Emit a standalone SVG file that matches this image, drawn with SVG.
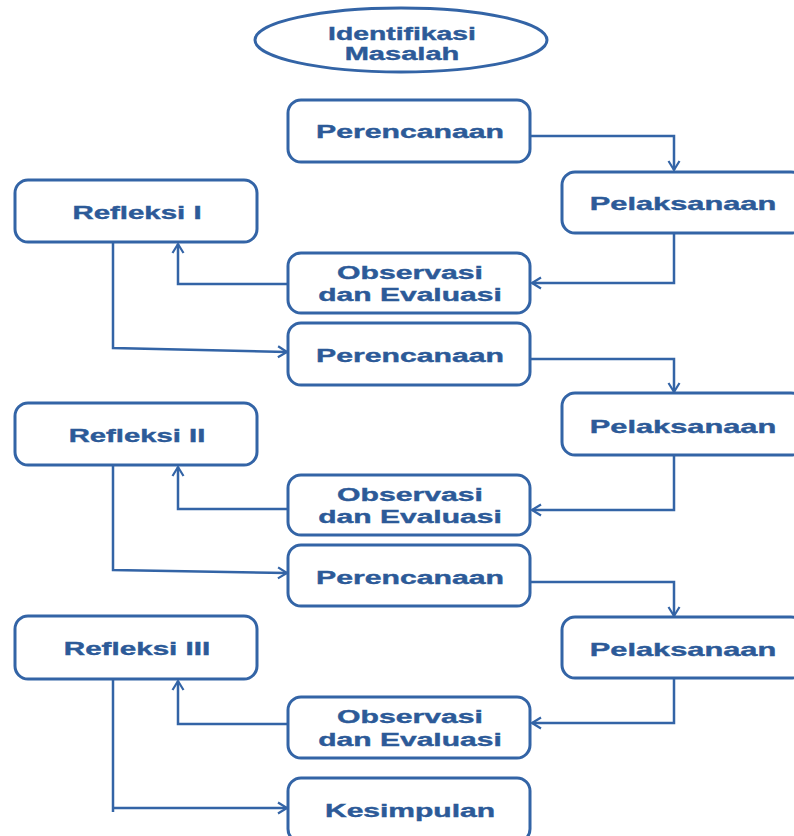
<svg xmlns="http://www.w3.org/2000/svg" width="794" height="836" viewBox="0 0 794 836">
<defs>
<style>
.box{fill:#fff;stroke:#3364a6;stroke-width:3}
.t{font-family:"Liberation Sans",Arial,sans-serif;font-weight:bold;font-size:19px;fill:#2c5a98;text-anchor:middle;stroke:#2c5a98;stroke-width:0.4}
.c{fill:none;stroke:#3364a6;stroke-width:2.5}
</style>
<marker id="ah" markerWidth="14" markerHeight="14" refX="11" refY="7" orient="auto" markerUnits="userSpaceOnUse">
<path d="M2,1.5 L11,7 L2,12.5" fill="none" stroke="#3364a6" stroke-width="2.2"/>
</marker>
</defs>
<rect width="794" height="836" fill="#fff"/>
<g id="identifikasi">
<ellipse class="box" cx="401" cy="40" rx="146" ry="32"/>
<text class="t" transform="translate(402,40) scale(1.49,1)" font-size="20">Identifikasi</text>
<text class="t" transform="translate(402,60) scale(1.53,1)" font-size="20">Masalah</text>
</g>
<g id="perencanaan1"><rect class="box" x="288" y="100" width="242" height="62" rx="13"/><text class="t" transform="translate(410,138) scale(1.59,1)">Perencanaan</text></g>
<g id="pelaksanaan1"><rect class="box" x="562" y="172" width="242" height="61" rx="13"/><text class="t" transform="translate(683,210) scale(1.62,1)">Pelaksanaan</text></g>
<g id="refleksi1"><rect class="box" x="15" y="180" width="242" height="62" rx="13"/><text class="t" transform="translate(137,219) scale(1.55,1)">Refleksi I</text></g>
<g id="observasi1"><rect class="box" x="288" y="253" width="242" height="60" rx="13"/><text class="t" transform="translate(410,279) scale(1.59,1)">Observasi</text><text class="t" transform="translate(410,301) scale(1.58,1)">dan Evaluasi</text></g>
<g id="perencanaan2"><rect class="box" x="288" y="323" width="242" height="62" rx="13"/><text class="t" transform="translate(410,362) scale(1.59,1)">Perencanaan</text></g>
<g id="pelaksanaan2"><rect class="box" x="562" y="393" width="242" height="62" rx="13"/><text class="t" transform="translate(683,433) scale(1.62,1)">Pelaksanaan</text></g>
<g id="refleksi2"><rect class="box" x="15" y="403" width="242" height="62" rx="13"/><text class="t" transform="translate(137,442) scale(1.54,1)">Refleksi II</text></g>
<g id="observasi2"><rect class="box" x="288" y="475" width="242" height="60" rx="13"/><text class="t" transform="translate(410,501) scale(1.59,1)">Observasi</text><text class="t" transform="translate(410,523) scale(1.58,1)">dan Evaluasi</text></g>
<g id="perencanaan3"><rect class="box" x="288" y="545" width="242" height="61" rx="13"/><text class="t" transform="translate(410,584) scale(1.59,1)">Perencanaan</text></g>
<g id="pelaksanaan3"><rect class="box" x="562" y="617" width="242" height="61" rx="13"/><text class="t" transform="translate(683,656) scale(1.62,1)">Pelaksanaan</text></g>
<g id="refleksi3"><rect class="box" x="15" y="616" width="242" height="63" rx="13"/><text class="t" transform="translate(137,655) scale(1.56,1)">Refleksi III</text></g>
<g id="observasi3"><rect class="box" x="288" y="697" width="242" height="61" rx="13"/><text class="t" transform="translate(410,723) scale(1.59,1)">Observasi</text><text class="t" transform="translate(410,746) scale(1.58,1)">dan Evaluasi</text></g>
<g id="kesimpulan"><rect class="box" x="288" y="778" width="242" height="64" rx="13"/><text class="t" transform="translate(410,817) scale(1.58,1)">Kesimpulan</text></g>
<g id="connectors">
<path class="c" d="M530,136 H674 V170" marker-end="url(#ah)"/>
<path class="c" d="M674,233 V283 H532" marker-end="url(#ah)"/>
<path class="c" d="M288,284 H178 V244" marker-end="url(#ah)"/>
<path class="c" d="M113,242 V348 L287,352" marker-end="url(#ah)"/>
<path class="c" d="M530,359 H674 V392" marker-end="url(#ah)"/>
<path class="c" d="M674,455 V510 H532" marker-end="url(#ah)"/>
<path class="c" d="M288,509 H178 V467" marker-end="url(#ah)"/>
<path class="c" d="M113,465 V570 L287,573" marker-end="url(#ah)"/>
<path class="c" d="M530,582 H674 V616" marker-end="url(#ah)"/>
<path class="c" d="M674,678 V723 H532" marker-end="url(#ah)"/>
<path class="c" d="M288,724 H178 V681" marker-end="url(#ah)"/>
<path class="c" d="M113,679 V812"/>
<path class="c" d="M113,808 H287" marker-end="url(#ah)"/>
</g>
</svg>
